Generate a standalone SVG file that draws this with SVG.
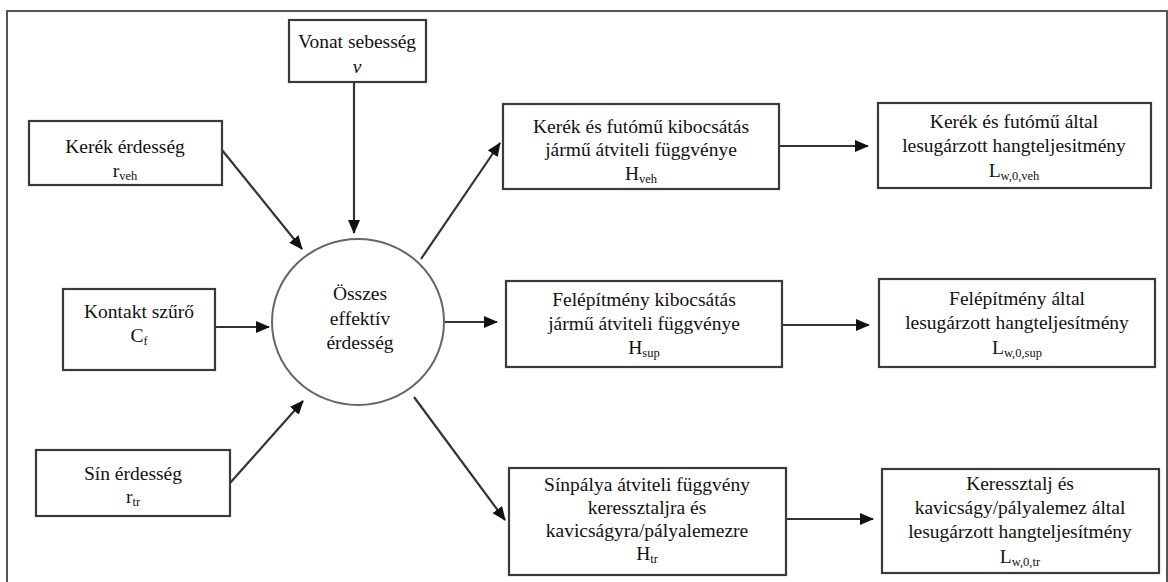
<svg xmlns="http://www.w3.org/2000/svg" width="1168" height="582" viewBox="0 0 1168 582">
<defs>
<style>
.box{fill:#fff;stroke:#3a3a3a;stroke-width:2.2}
.frame{fill:#fff;stroke:#555;stroke-width:2}
.t{font-size:19.5px;fill:#111;text-anchor:middle}
.s{font-size:12.5px}
.c{fill:none;stroke:#333;stroke-width:2.2}
</style>
<marker id="ah" markerUnits="userSpaceOnUse" markerWidth="14" markerHeight="12" refX="13" refY="6" orient="auto">
<path d="M0,0 L14,6 L0,12 z" fill="#111"/>
</marker>
</defs>
<rect class="frame" x="7" y="11" width="1160" height="600"/>
<g id="connectors">
<line class="c" x1="222" y1="150" x2="302" y2="249" marker-end="url(#ah)"/>
<line class="c" x1="354" y1="82" x2="354" y2="233" marker-end="url(#ah)"/>
<line class="c" x1="215" y1="327" x2="269" y2="327" marker-end="url(#ah)"/>
<line class="c" x1="230" y1="483" x2="303" y2="401" marker-end="url(#ah)"/>
<line class="c" x1="421" y1="259" x2="500" y2="143" marker-end="url(#ah)"/>
<line class="c" x1="445" y1="322" x2="497" y2="322" marker-end="url(#ah)"/>
<line class="c" x1="414" y1="397" x2="505" y2="520" marker-end="url(#ah)"/>
<line class="c" x1="779" y1="146" x2="868" y2="146" marker-end="url(#ah)"/>
<line class="c" x1="782" y1="325" x2="869" y2="325" marker-end="url(#ah)"/>
<line class="c" x1="786" y1="519" x2="873" y2="519" marker-end="url(#ah)"/>
</g>
<g font-family="'Liberation Serif', 'DejaVu Serif', serif">
<g id="vonat">
<rect class="box" x="289" y="20" width="137" height="62"/>
<text class="t" x="357" y="48">Vonat sebesség</text>
<text class="t" x="357" y="73" font-style="italic">v</text>
</g>
<g id="kerek">
<rect class="box" x="29" y="121" width="193" height="64"/>
<text class="t" x="125" y="153">Kerék érdesség</text>
<text class="t" x="125" y="177">r<tspan class="s" dy="3">veh</tspan></text>
</g>
<g id="kontakt">
<rect class="box" x="63" y="289" width="152" height="81"/>
<text class="t" x="139" y="318">Kontakt szűrő</text>
<text class="t" x="139" y="342">C<tspan class="s" dy="3">f</tspan></text>
</g>
<g id="sin">
<rect class="box" x="36" y="450" width="194" height="66"/>
<text class="t" x="133" y="480">Sín érdesség</text>
<text class="t" x="133" y="503">r<tspan class="s" dy="3">tr</tspan></text>
</g>
<g id="osszes">
<ellipse cx="358" cy="322" rx="86" ry="83" fill="#fff" stroke="#666" stroke-width="2"/>
<text class="t" x="360" y="300">Összes</text>
<text class="t" x="360" y="325">effektív</text>
<text class="t" x="360" y="349">érdesség</text>
</g>
<g id="hveh">
<rect class="box" x="503" y="104" width="276" height="85"/>
<text class="t" x="641" y="133">Kerék és futómű kibocsátás</text>
<text class="t" x="641" y="156">jármű átviteli függvénye</text>
<text class="t" x="641" y="180">H<tspan class="s" dy="3">veh</tspan></text>
</g>
<g id="hsup">
<rect class="box" x="506" y="281" width="276" height="86"/>
<text class="t" x="644" y="306">Felépítmény kibocsátás</text>
<text class="t" x="644" y="330">jármű átviteli függvénye</text>
<text class="t" x="644" y="354">H<tspan class="s" dy="3">sup</tspan></text>
</g>
<g id="htr">
<rect class="box" x="509" y="468" width="277" height="107"/>
<text class="t" x="647" y="491">Sínpálya átviteli függvény</text>
<text class="t" x="647" y="514">keressztaljra és</text>
<text class="t" x="647" y="537">kavicságyra/pályalemezre</text>
<text class="t" x="647" y="560">H<tspan class="s" dy="3">tr</tspan></text>
</g>
<g id="lveh">
<rect class="box" x="878" y="103" width="273" height="85"/>
<text class="t" x="1014" y="128">Kerék és futómű által</text>
<text class="t" x="1014" y="152">lesugárzott hangteljesitmény</text>
<text class="t" x="1014" y="177">L<tspan class="s" dy="3">w,0,veh</tspan></text>
</g>
<g id="lsup">
<rect class="box" x="879" y="279" width="276" height="88"/>
<text class="t" x="1017" y="305">Felépítmény által</text>
<text class="t" x="1017" y="329">lesugárzott hangteljesítmény</text>
<text class="t" x="1017" y="354">L<tspan class="s" dy="3">w,0,sup</tspan></text>
</g>
<g id="ltr">
<rect class="box" x="882" y="469" width="277" height="104"/>
<text class="t" x="1020" y="490">Keressztalj és</text>
<text class="t" x="1020" y="514">kavicságy/pályalemez által</text>
<text class="t" x="1020" y="538">lesugárzott hangteljesítmény</text>
<text class="t" x="1020" y="563">L<tspan class="s" dy="3">w,0,tr</tspan></text>
</g>
</g>
</svg>
